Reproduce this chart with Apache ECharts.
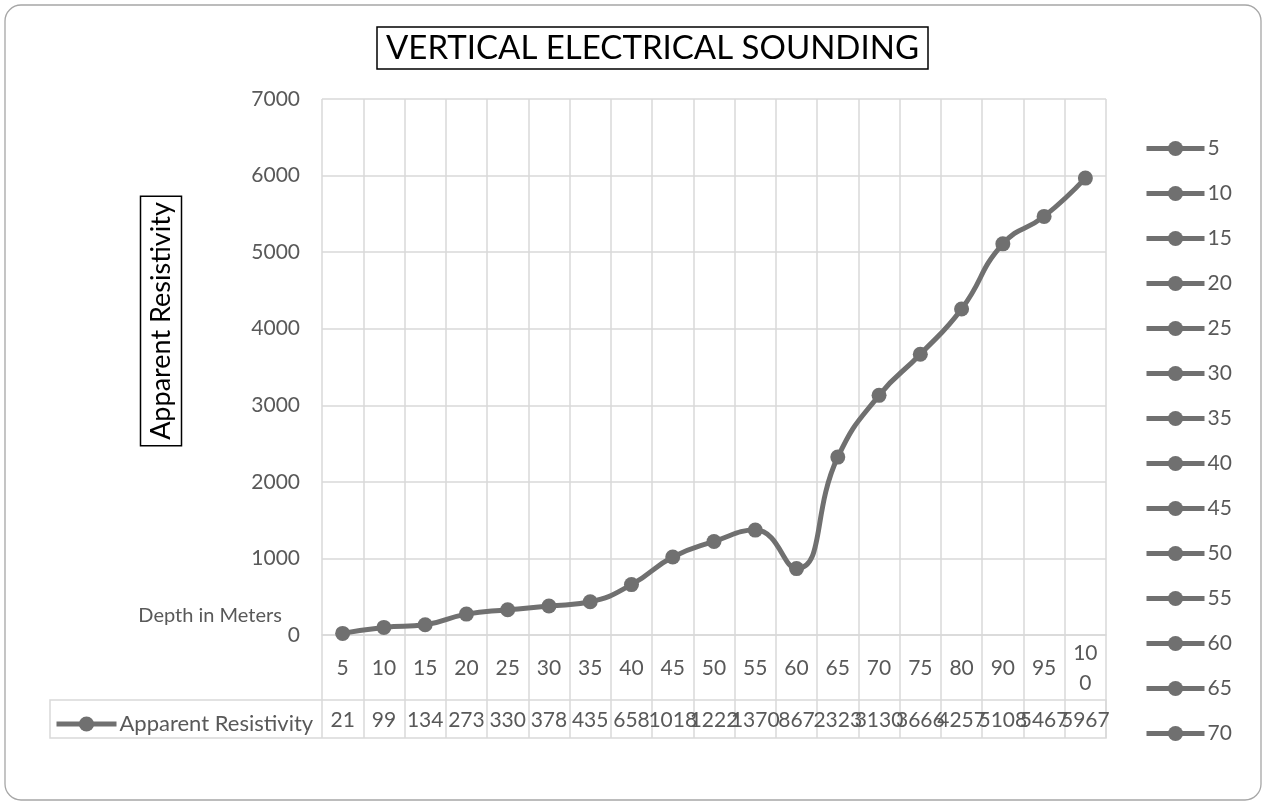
<!DOCTYPE html>
<html>
<head>
<meta charset="utf-8">
<script src="https://cdn.jsdelivr.net/npm/echarts@6/dist/echarts.min.js"></script>
<style>
  html, body { margin: 0; padding: 0; background: #fff; }
  #chart { width: 1266px; height: 805px; }
</style>
</head>
<body>
<div id="chart"></div>
<script>
// Electrode spacing / depth categories (m)
const categories = ['5', '10', '15', '20', '25', '30', '35', '40', '45', '50',
                    '55', '60', '65', '70', '75', '80', '90', '95', '100'];
// Apparent resistivity readings at each depth
const resistivity = [21, 99, 134, 273, 330, 378, 435, 658, 1018, 1222,
                     1370, 867, 2323, 3130, 3666, 4257, 5108, 5467, 5967];
// Entries shown in the side legend
const legendLabels = ['5', '10', '15', '20', '25', '30', '35',
                      '40', '45', '50', '55', '60', '65', '70'];
// Value axis range
const yMin = 0, yMax = 7000, yStep = 1000;

const FONT = 'Lato, "Open Sans", sans-serif';
const GREY = '#595959';
const GRID_LINE = '#d9d9d9';
const SERIES_COLOR = '#707070';

const gridBox = { left: 322, right: 160, top: 99, bottom: 170 };
const W = 1266, H = 805;
const plotRight = W - gridBox.right;
const plotBottom = H - gridBox.bottom;
const tableTop = 700, tableBottom = 738;

const lineStyle = { color: SERIES_COLOR, width: 5 };
const itemStyle = { color: SERIES_COLOR };

const series = [{
  name: 'Apparent Resistivity',
  type: 'line',
  data: resistivity,
  smooth: 0.5,
  symbol: 'circle',
  symbolSize: 15,
  lineStyle: lineStyle,
  itemStyle: itemStyle,
  z: 5
}];
// legend-only entries (no marks)
legendLabels.forEach(function (n) {
  series.push({
    name: n, type: 'line', data: [], symbol: 'circle', symbolSize: 15,
    lineStyle: lineStyle, itemStyle: itemStyle
  });
});

const chart = echarts.init(document.getElementById('chart'), null, { renderer: 'canvas' });
chart.setOption({
  backgroundColor: '#fff',
  animation: false,
  title: {
    text: 'VERTICAL ELECTRICAL SOUNDING',
    left: 377,
    top: 27,
    padding: [5, 9, 4, 9],
    borderColor: '#000',
    borderWidth: 1.5,
    textStyle: { fontFamily: FONT, fontSize: 33, fontWeight: 'normal', color: '#000' }
  },
  grid: gridBox,
  legend: [{
    data: legendLabels,
    orient: 'vertical',
    left: 1139,
    top: 133,
    itemWidth: 58,
    itemHeight: 19,
    itemGap: 24,
    lineStyle: { width: 5 },
    textStyle: { fontFamily: FONT, fontSize: 21, color: GREY, padding: [0, 0, 0, -2] },
    selectedMode: false
  }, {
    data: ['Apparent Resistivity'],
    left: 49,
    top: 708,
    itemWidth: 60,
    itemHeight: 19,
    lineStyle: { width: 5 },
    textStyle: { fontFamily: FONT, fontSize: 22, color: GREY, padding: [0, 0, 0, -2] },
    selectedMode: false
  }],
  xAxis: [{
    type: 'category',
    data: categories,
    boundaryGap: true,
    name: 'Depth in Meters',
    nameLocation: 'start',
    nameGap: 35,
    nameTextStyle: {
      fontFamily: FONT, fontSize: 20, color: GREY,
      align: 'right', verticalAlign: 'bottom', padding: [0, 0, 9, 0]
    },
    axisLine: { show: true, lineStyle: { color: GRID_LINE, width: 1.5 } },
    axisTick: { show: true, interval: 0, length: tableBottom - plotBottom,
                lineStyle: { color: GRID_LINE, width: 1.5 } },
    splitLine: { show: true, interval: 0, lineStyle: { color: GRID_LINE, width: 1.5 } },
    axisLabel: {
      interval: 0, margin: 33, verticalAlign: 'middle',
      fontFamily: FONT, fontSize: 21, color: GREY,
      width: 26, overflow: 'breakAll', lineHeight: 30
    }
  }, {
    type: 'category',
    data: categories,
    position: 'bottom',
    boundaryGap: true,
    axisLine: { show: false },
    axisTick: { show: false },
    splitLine: { show: false },
    axisLabel: {
      interval: 0, margin: 85, verticalAlign: 'middle',
      fontFamily: FONT, fontSize: 21, color: GREY,
      formatter: function (v, i) { return String(resistivity[i]); }
    }
  }],
  yAxis: {
    type: 'value',
    min: yMin, max: yMax, interval: yStep,
    axisLine: { show: false },
    axisTick: { show: false },
    splitLine: { show: true, lineStyle: { color: GRID_LINE, width: 1.5 } },
    axisLabel: {
      fontFamily: FONT, fontSize: 21, color: GREY, margin: 22,
      formatter: function (v) { return String(v); }
    }
  },
  series: series,
  graphic: [{
    // chart frame
    type: 'rect',
    shape: { x: 5, y: 5, width: W - 10, height: H - 10, r: 16 },
    style: { fill: 'none', stroke: '#a6a6a6', lineWidth: 1.3 },
    silent: true
  }, {
    // data table frame
    type: 'rect',
    shape: { x: 50, y: tableTop, width: plotRight - 50, height: tableBottom - tableTop },
    style: { fill: 'none', stroke: GRID_LINE, lineWidth: 1.5 },
    silent: true
  }, {
    // value axis title
    type: 'text',
    x: 161, y: 321,
    rotation: Math.PI / 2,
    style: {
      text: 'Apparent Resistivity',
      font: '27px ' + FONT,
      fill: '#000',
      align: 'center',
      verticalAlign: 'middle',
      borderColor: '#000',
      borderWidth: 1.5,
      padding: [8, 6, 6, 6]
    },
    silent: true
  }]
});
</script>
</body>
</html>
